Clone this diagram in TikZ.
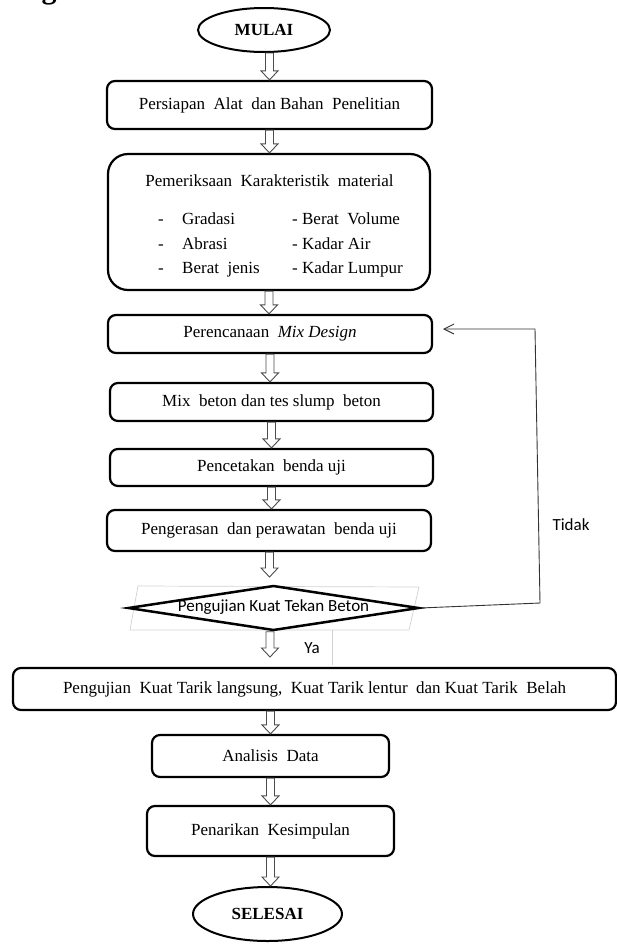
\documentclass[tikz,border=0pt]{standalone}
\usepackage{fontspec}
\setmainfont{Liberation Serif}
\newfontfamily\calibri{Carlito}
\usetikzlibrary{shapes.geometric,arrows.meta,calc}
\begin{document}
\begin{tikzpicture}[x=1pt,y=-1pt,
  txt/.style={inner sep=0pt,font=\fontsize{17}{20}\selectfont},
  box/.style={draw=black,line width=2.2pt,rounded corners=8pt,inner sep=0pt,fill=white,font=\fontsize{17}{20}\selectfont},
  term/.style={ellipse,draw=black,line width=2pt,inner sep=0pt,fill=white,font=\bfseries\fontsize{17}{20}\selectfont},
  sans/.style={inner sep=0pt,font=\calibri\fontsize{17}{20}\selectfont},
  faint/.style={draw=black!18,line width=0.7pt},
  fb/.style={draw=black!80,line width=0.9pt,-{Straight Barb[length=10pt,width=10pt,line width=0.9pt]}},
  hollow/.style={draw=black!70,fill=white,line width=0.9pt,line join=miter,
    to path={let \p1=(\tikztostart),\p2=(\tikztotarget) in
      (\x1-4pt,\y1) -- (\x1+4pt,\y1) -- (\x1+4pt,\y2+9pt) -- (\x1+8.5pt,\y2+9pt)
      -- (\x1,\y2) -- (\x1-8.5pt,\y2+9pt) -- (\x1-4pt,\y2+9pt) -- cycle}}]
\useasboundingbox (0,0) rectangle (617,945);
\begin{scope}
\clip (0,0) rectangle (617,945);
\node[anchor=base,inner sep=0pt,font=\bfseries\fontsize{30}{30}\selectfont] (hd) at (49,-2) {g};
\end{scope}

% terminals and process boxes
\node[term,minimum width=132pt,minimum height=44pt] (mulai) at (264,30) {MULAI};
\node[box,minimum width=325pt,minimum height=48pt] (p1) at (269.5,105) {Persiapan\ \ Alat\ \ dan Bahan\ \ Penelitian};
\node[box,rounded corners=20pt,minimum width=322pt,minimum height=136pt] (p2) at (269,222) {};
\node[txt,anchor=base] (p2t) at (269.5,186) {Pemeriksaan\ \ Karakteristik\ \ material};
\node[txt,anchor=base west] (d1) at (158,224) {-};
\node[txt,anchor=base west] (i1) at (182,224) {Gradasi};
\node[txt,anchor=base west] (j1) at (292,224) {- Berat\ \ Volume};
\node[txt,anchor=base west] (d2) at (158,249) {-};
\node[txt,anchor=base west] (i2) at (182,249) {Abrasi};
\node[txt,anchor=base west] (j2) at (292,249) {- Kadar Air};
\node[txt,anchor=base west] (d3) at (158,273) {-};
\node[txt,anchor=base west] (i3) at (182,273) {Berat\ \ jenis};
\node[txt,anchor=base west] (j3) at (292,273) {- Kadar Lumpur};
\node[box,minimum width=324pt,minimum height=38pt] (p3) at (270,334) {Perencanaan\ \ \textit{Mix Design}};
\node[box,minimum width=323pt,minimum height=38pt] (p4) at (271.5,402) {Mix\ \ beton dan tes slump\ \ beton};
\node[box,minimum width=323pt,minimum height=37pt] (p5) at (271.5,467.5) {Pencetakan\ \ benda uji};
\node[box,minimum width=324pt,minimum height=41pt] (p6) at (269,530.5) {Pengerasan\ \ dan perawatan\ \ benda uji};

% decision
\draw[faint] (138,586) -- (419,587) -- (409,630) -- (130,630) -- cycle;
\draw[faint] (332,630) -- (332,665);
\node[diamond,draw=black,line width=2.5pt,fill=white,inner sep=0pt,minimum width=291pt,minimum height=45pt] (dm) at (273.5,608) {};
\node[sans] (dmt) at (273.5,607) {Pengujian Kuat Tekan Beton};

\node[box,minimum width=603pt,minimum height=42pt] (p8) at (314.5,689) {Pengujian\ \ Kuat Tarik langsung,\ \ Kuat Tarik lentur\ \ dan Kuat Tarik\ \ Belah};
\node[box,minimum width=237pt,minimum height=42pt] (p9) at (270.5,756) {Analisis\ \ Data};
\node[box,minimum width=247pt,minimum height=50pt] (p10) at (270.5,831) {Penarikan\ \ Kesimpulan};
\node[term,minimum width=149pt,minimum height=54pt] (sel) at (267.5,914) {SELESAI};

\node[sans] (ya) at (312,648) {Ya};
\node[sans] (tidak) at (571,525) {Tidak};

% hollow arrows
\coordinate (a7) at (269.5,577);
\coordinate (a8) at (270,657);
\draw[hollow] (mulai.south -| p1.north) to (p1.north);
\draw[hollow] (p1.south) to (p2.north);
\draw[hollow] (p2.south) to (p3.north);
\draw[hollow] (p3.south) to (p4.north);
\draw[hollow] (p4.south) to (p5.north);
\draw[hollow] (p5.south) to (p6.north);
\draw[hollow] (p6.south -| a7) to (a7);
\draw[hollow] (dm.south -| a8) to (a8);
\draw[hollow] (p8.south -| p9.north) to (p9.north);
\draw[hollow] (p9.south) to (p10.north);
\draw[hollow] (p10.south) to (p10.south |- sel.north);

% feedback
\coordinate (f1) at (540,603);
\coordinate (f2) at (535,329);
\coordinate (f3) at (443,329);
\draw[fb] (dm.east) -- (f1) -- (f2) -- (f3);
\end{tikzpicture}
\end{document}
